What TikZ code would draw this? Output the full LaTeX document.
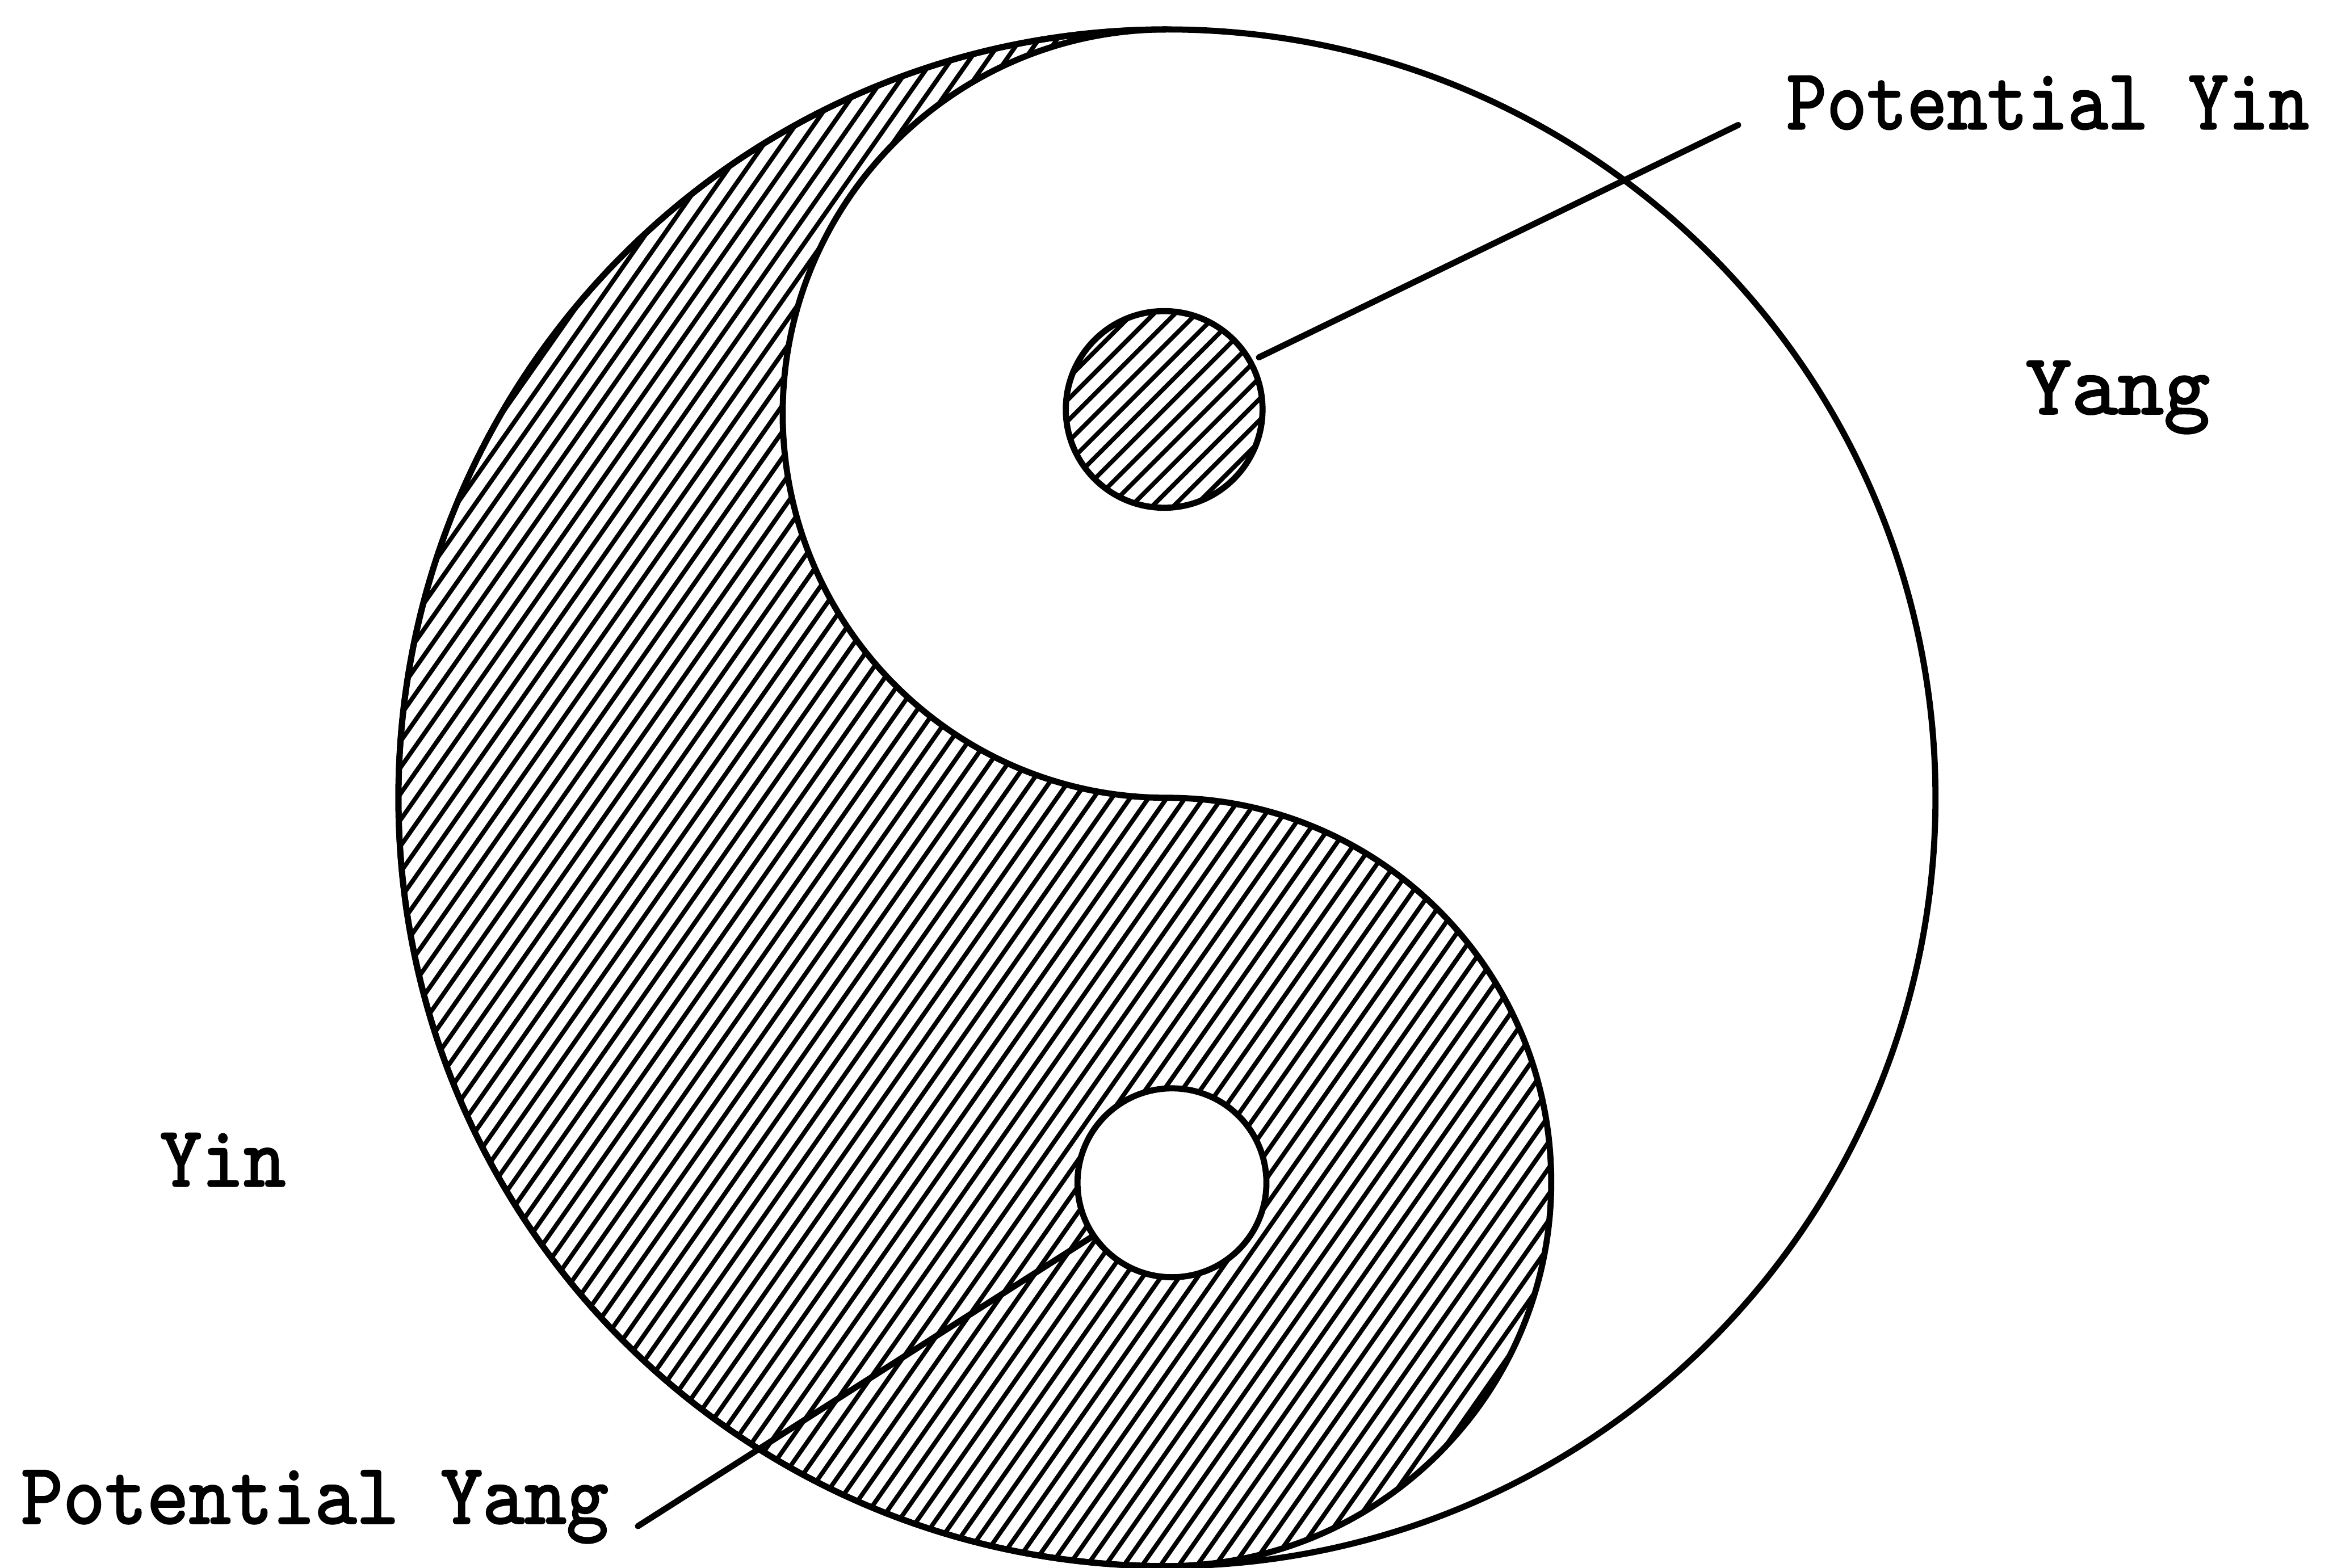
\documentclass[tikz,border=0pt]{standalone}
\usepackage{fontspec}
\newfontfamily\labfont[FakeBold=2]{lmmono10-regular.otf}
\usetikzlibrary{calc}
\tikzset{
  outline/.style={line width=0.11cm, line join=round},
  hatchline/.style={line width=0.08cm},
  leader/.style={line width=0.11cm, line cap=round},
  lab/.style={anchor=base west, inner sep=0pt, outer sep=0pt},
  dot/.style={circle, draw, line width=0.11cm, inner sep=0pt},
}
\begin{document}
\begin{tikzpicture}
\useasboundingbox (0,0) rectangle (41.84,28.22);
\coordinate (O) at (21,13.86);
% hatching of the yin half
\begin{scope}
  \clip (21,27.69) arc[start angle=90,end angle=270,radius=13.83]
        arc[start angle=-90,end angle=90,radius=6.915]
        arc[start angle=270,end angle=90,radius=6.915] -- cycle;
  \begin{scope}[shift={(O)}, rotate=55]
    \foreach \i in {-54,...,54} \draw[hatchline] (-15,\i*0.27) -- (15,\i*0.27);
  \end{scope}
\end{scope}
% outlines
\draw[outline] (21,27.69) arc[start angle=90,end angle=270,radius=13.83]
        arc[start angle=-90,end angle=90,radius=6.915]
        arc[start angle=270,end angle=90,radius=6.915] -- cycle;
\draw[outline] (O) circle[radius=13.83];
% small dots
\node[dot, minimum size=3.54cm] (dotU) at (20.95,20.85) {};
\begin{scope}
  \clip (dotU.center) circle[radius=1.75];
  \begin{scope}[shift={(dotU.center)}, rotate=45]
    \foreach \i in {-7,...,7} \draw[hatchline] (-2.2,\i*0.27) -- (2.2,\i*0.27);
  \end{scope}
\end{scope}
\node[dot, fill=white, minimum size=3.40cm] (dotL) at (21.09,6.93) {};
% labels
\node[lab] (tPYin) at (32.15,25.90) {\resizebox{9.40cm}{0.95cm}{\labfont Potential Yin}};
\node[lab] (tYang) at (36.45,20.77) {\resizebox{3.32cm}{0.95cm}{\labfont Yang}};
\node[lab] (tYin) at (2.88,6.87) {\resizebox{2.26cm}{0.95cm}{\labfont Yin}};
\node[lab] (tPYang) at (0.38,0.80) {\resizebox{10.57cm}{0.95cm}{\labfont Potential Yang}};
% leader lines
\coordinate (pyinEnd) at (31.28,25.97);
\coordinate (pyangEnd) at (11.48,0.75);
\draw[leader, shorten <=0.12cm] (dotU.29.5) -- (pyinEnd);
\draw[leader] (dotL.214) -- (pyangEnd);
\end{tikzpicture}
\end{document}
